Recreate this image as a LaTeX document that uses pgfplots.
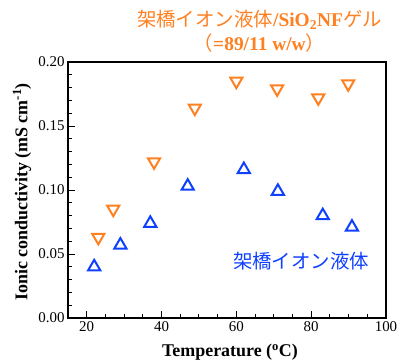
\documentclass[border=0pt]{standalone}
\usepackage{pgfplots}
\pgfplotsset{compat=1.18}
\usepackage{fontspec}
\setmainfont{Liberation Serif}
\newfontfamily\cjk{Noto Sans CJK JP}
\definecolor{myorange}{HTML}{FF8020}
\definecolor{myblue}{HTML}{1040FF}
\begin{document}
\begin{tikzpicture}
\useasboundingbox (-68bp,-46bp) rectangle (332bp,318bp);
\begin{axis}[
  scale only axis, width=318bp, height=256bp,
  at={(0,0)}, anchor=south west,
  xmin=15, xmax=100, ymin=0, ymax=0.2,
  xtick={20,40,60,80,100},
  ytick={0,0.05,0.1,0.15,0.2},
  minor xtick={25,30,35,45,50,55,65,70,75,85,90,95},
  minor ytick={0.01,0.02,0.03,0.04,0.06,0.07,0.08,0.09,0.11,0.12,0.13,0.14,0.16,0.17,0.18,0.19},
  xtick pos=bottom, ytick pos=left,
  tick align=inside,
  major tick length=7bp, minor tick length=4bp,
  every tick/.style={black, line width=0.9bp},
  axis line style={line width=1.6bp},
  /pgf/number format/assume math mode=true,
  xticklabel={\pgfmathprintnumber{\tick}},
  yticklabel={\pgfmathprintnumber[fixed, fixed zerofill, precision=2]{\tick}},
  ticklabel style={font=\fontsize{15}{15}\selectfont},
  scaled y ticks=false,
  clip=false,
]
\addplot[only marks, mark=triangle, mark size=7bp, myorange, mark options={rotate=180, line width=2bp}] coordinates {
(23.1,0.063) (27.1,0.085) (38.0,0.122) (48.9,0.164) (60.0,0.185) (70.9,0.179) (81.9,0.172) (89.9,0.183)
};
\addplot[only marks, mark=triangle, mark size=7bp, myblue, mark options={line width=2bp}] coordinates {
(22.0,0.040) (29.0,0.057) (37.0,0.074) (47.0,0.103) (62.0,0.116) (71.1,0.099) (83.1,0.080) (90.9,0.071)
};
\end{axis}
\node[font=\bfseries\fontsize{18}{18}\selectfont] at (162bp,-34bp) {Temperature (\textsuperscript{o}C)};
\node[font=\bfseries\fontsize{18}{18}\selectfont, rotate=90] at (-46bp,126bp) {Ionic conductivity (mS cm\textsuperscript{-1})};
\node[text=myblue, font=\cjk\fontsize{19.5}{19.5}\selectfont] at (233bp,57bp) {架橋イオン液体};
\node[text=myorange, font=\fontsize{19.5}{19.5}\selectfont, align=center, inner sep=0pt] at (191.5bp,287bp) {{\cjk 架橋イオン液体}\textbf{/SiO\textsubscript{2}NF}{\cjk ゲル}\\[3bp]{\cjk （}\textbf{=89/11 w/w}{\cjk ）}};
\end{tikzpicture}
\end{document}
